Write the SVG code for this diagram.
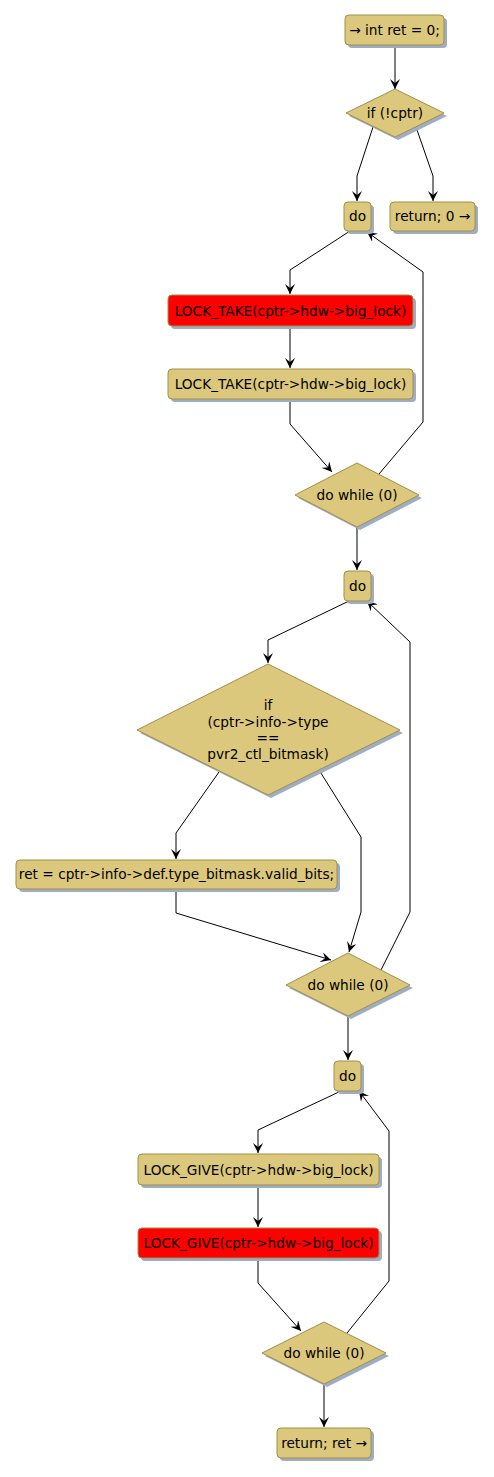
<svg xmlns="http://www.w3.org/2000/svg" width="494" height="1477" viewBox="0 0 494 1477">
<style>
.n{fill:#DCC87C;stroke:#A38F45;stroke-width:1}
.r{fill:#FF0000;stroke:#A38F45;stroke-width:1}
.s{fill:#9EADC6;stroke:none}
.t{font-family:"DejaVu Sans",sans-serif;font-size:13.7px;fill:#000;text-anchor:middle}
.c{fill:none;stroke:#000;stroke-width:1}
.a{marker-end:url(#ah)}
</style>
<defs>
<marker id="ah" markerWidth="12" markerHeight="10" refX="10" refY="5" orient="auto" markerUnits="userSpaceOnUse">
<path d="M0,0 L10,5 L0,10 L4,5 Z" fill="#000"/>
</marker>
</defs>
<rect width="494" height="1477" fill="#fff"/>
<g id="connectors">
<path class="c a" d="M395,45 V89"/>
<path class="c a" d="M373,127 L357,176 V201"/>
<path class="c a" d="M416,127 L433,176 V201"/>
<path class="c a" d="M350,231 L290,270 V294"/>
<path class="c a" d="M290,326 V368"/>
<path class="c a" d="M290,399 V424 L332,472"/>
<path class="c a" d="M379,474 L423,422 V272 L367,232"/>
<path class="c a" d="M357,527 V570"/>
<path class="c a" d="M349,601 L268,640 V663"/>
<path class="c a" d="M219,772 L176,833 V859"/>
<path class="c a" d="M319,770 L361,837 V912 L349,952"/>
<path class="c a" d="M176,889 V913 L331,960"/>
<path class="c a" d="M381,970 L410,912 V642 L367,601"/>
<path class="c a" d="M348,1016 V1060"/>
<path class="c a" d="M341,1091 L258,1130 V1153"/>
<path class="c a" d="M258,1185 V1227"/>
<path class="c a" d="M258,1258 V1283 L301,1331"/>
<path class="c a" d="M347,1333 L389,1281 V1131 L359,1091"/>
<path class="c a" d="M324,1384 V1427"/>
</g>
<g id="n1"><rect class="s" x="348" y="18" width="99" height="30" rx="4"/><rect class="n" x="345" y="15" width="99" height="30" rx="4"/><text class="t" x="394.5" y="35">→ int ret = 0;</text></g>
<g id="n2"><polygon class="s" points="398,92 447,116 398,140 349,116"/><polygon class="n" points="395,89 444,113 395,137 346,113"/><text class="t" x="395" y="118">if (!cptr)</text></g>
<g id="n3"><rect class="s" x="347" y="205" width="27" height="29" rx="4"/><rect class="n" x="344" y="202" width="27" height="29" rx="4"/><text class="t" x="357.5" y="221">do</text></g>
<g id="n4"><rect class="s" x="393" y="205" width="85" height="29" rx="4"/><rect class="n" x="390" y="202" width="85" height="29" rx="4"/><text class="t" x="432.5" y="221">return; 0 →</text></g>
<g id="n5"><rect class="s" x="171" y="298" width="245" height="31" rx="4"/><rect class="r" x="168" y="295" width="245" height="31" rx="4"/><text class="t" x="290.5" y="315.5">LOCK_TAKE(cptr-&gt;hdw-&gt;big_lock)</text></g>
<g id="n6"><rect class="s" x="171" y="372" width="245" height="30" rx="4"/><rect class="n" x="168" y="369" width="245" height="30" rx="4"/><text class="t" x="290.5" y="389">LOCK_TAKE(cptr-&gt;hdw-&gt;big_lock)</text></g>
<g id="n7"><polygon class="s" points="360,466 422,498 360,530 298,498"/><polygon class="n" points="357,463 419,495 357,527 295,495"/><text class="t" x="357" y="500">do while (0)</text></g>
<g id="n8"><rect class="s" x="347" y="574" width="27" height="30" rx="4"/><rect class="n" x="344" y="571" width="27" height="30" rx="4"/><text class="t" x="357.5" y="591">do</text></g>
<g id="n9"><polygon class="s" points="271,667 403,733 271,798 140,733"/><polygon class="n" points="268,664 400,730 268,795 137,730"/><text class="t" x="268" y="710">if</text><text class="t" x="268" y="727">(cptr-&gt;info-&gt;type</text><text class="t" x="268" y="743">==</text><text class="t" x="268" y="759">pvr2_ctl_bitmask)</text></g>
<g id="n10"><rect class="s" x="19" y="863" width="321" height="29" rx="4"/><rect class="n" x="16" y="860" width="321" height="29" rx="4"/><text class="t" x="176.5" y="879">ret = cptr-&gt;info-&gt;def.type_bitmask.valid_bits;</text></g>
<g id="n11"><polygon class="s" points="351,956 413,988 351,1019 289,988"/><polygon class="n" points="348,953 410,985 348,1016 286,985"/><text class="t" x="348" y="990">do while (0)</text></g>
<g id="n12"><rect class="s" x="337" y="1064" width="27" height="30" rx="4"/><rect class="n" x="334" y="1061" width="27" height="30" rx="4"/><text class="t" x="347.5" y="1081">do</text></g>
<g id="n13"><rect class="s" x="141" y="1157" width="241" height="31" rx="4"/><rect class="n" x="138" y="1154" width="241" height="31" rx="4"/><text class="t" x="258.5" y="1174.5">LOCK_GIVE(cptr-&gt;hdw-&gt;big_lock)</text></g>
<g id="n14"><rect class="s" x="141" y="1231" width="241" height="30" rx="4"/><rect class="r" x="138" y="1228" width="241" height="30" rx="4"/><text class="t" x="258.5" y="1248">LOCK_GIVE(cptr-&gt;hdw-&gt;big_lock)</text></g>
<g id="n15"><polygon class="s" points="327,1325 389,1356 327,1387 265,1356"/><polygon class="n" points="324,1322 386,1353 324,1384 262,1353"/><text class="t" x="324" y="1358">do while (0)</text></g>
<g id="n16"><rect class="s" x="280" y="1431" width="94" height="30" rx="4"/><rect class="n" x="277" y="1428" width="94" height="30" rx="4"/><text class="t" x="324" y="1448">return; ret →</text></g>
</svg>
